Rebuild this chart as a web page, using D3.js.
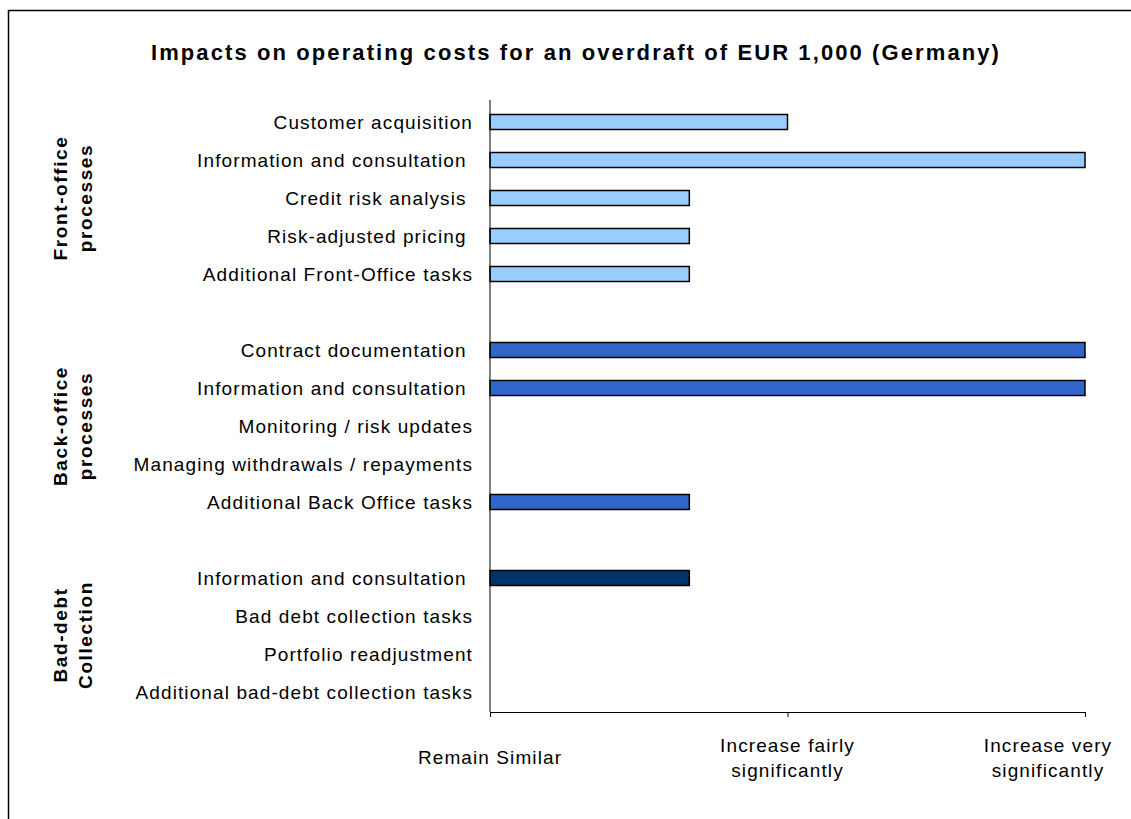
<!DOCTYPE html>
<html><head><meta charset="utf-8">
<script src="https://cdn.jsdelivr.net/npm/d3@7"></script>
<style>body{margin:0;background:#fff;} svg{display:block;font-family:"Liberation Sans",Arial,sans-serif;}</style>
</head><body><svg id="c" width="1131" height="819"></svg>
<script>
const categories = [
  "Customer acquisition", "Information and consultation ", "Credit risk analysis ", "Risk-adjusted pricing ", "Additional Front-Office tasks",
  "", 
  "Contract documentation ", "Information and consultation ", "Monitoring / risk updates", "Managing withdrawals / repayments", "Additional Back Office tasks",
  "",
  "Information and consultation ", "Bad debt collection tasks", "Portfolio readjustment", "Additional bad-debt collection tasks"
];
const groupOf = [0,0,0,0,0,-1,1,1,1,1,1,-1,2,2,2,2];
const values = [1, 2, 0.67, 0.67, 0.67, null, 2, 2, 0, 0, 0.67, null, 0.67, 0, 0, 0];
const groups = [["Front-office","processes"],["Back-office","processes"],["Bad-debt","Collection"]];
const groupColors = ["#99CCFF", "#3366CC", "#003366"];
const tickValues = [0, 1, 2];
const tickLabels = [["Remain Similar"], ["Increase fairly","significantly"], ["Increase very","significantly"]];
const title = "Impacts on operating costs for an overdraft of EUR 1,000 (Germany)";

const svg = d3.select("#c");
svg.append("rect").attr("x",8.5).attr("y",10.5).attr("width",1140).attr("height",830)
  .attr("fill","none").attr("stroke","#000").attr("stroke-width",1.5);

svg.append("text").attr("x",576).attr("y",60).attr("text-anchor","middle")
  .attr("font-size","22px").attr("font-weight","bold").attr("letter-spacing","2.1px").text(title);

const idx = categories.map((d,i)=>i);
const y = d3.scaleBand().domain(idx).range([103, 711]);
const x = d3.scaleLinear().domain([0,2]).range([490, 1085]);

// bars
svg.append("g").selectAll("rect").data(idx.filter(i=>values[i]>0)).join("rect")
  .attr("x", x(0)).attr("y", i=>y(i)+y.bandwidth()/2-7.5)
  .attr("width", i=>x(values[i])-x(0)).attr("height", 15)
  .attr("fill", i=>groupColors[groupOf[i]]).attr("stroke","#000").attr("stroke-width",1.5);

// category labels
svg.append("g").selectAll("text").data(idx.filter(i=>categories[i])).join("text")
  .attr("x", 473).attr("y", i=>y(i)+y.bandwidth()/2).attr("dy","0.35em")
  .attr("text-anchor","end").attr("font-size","19px").attr("letter-spacing","1.1px").style("white-space","pre")
  .text(i=>categories[i]);

// y axis line
svg.append("line").attr("x1",x(0)).attr("x2",x(0)).attr("y1",100).attr("y2",712)
  .attr("stroke","#000").attr("stroke-width",1);

// x axis
const xAxis = d3.axisBottom(x).tickValues(tickValues).tickSize(5).tickFormat("");
const gx = svg.append("g").attr("transform","translate(0,712)").call(xAxis);
gx.select(".domain").attr("stroke","#000");
gx.selectAll(".tick line").attr("stroke","#000");

const labelShift = [0, 0, -37];
tickValues.forEach((v,k)=>{
  const lines = tickLabels[k];
  const t = svg.append("text").attr("text-anchor","middle").attr("font-size","19px").attr("letter-spacing","1.1px");
  const y0 = lines.length===1 ? 764 : 752;
  lines.forEach((s,j)=>t.append("tspan").attr("x",x(v)+labelShift[k]).attr("y",y0+j*25).text(s));
});

// group labels
groups.forEach((g,gi)=>{
  const rows = idx.filter(i=>groupOf[i]===gi);
  const cy = (y(rows[0]) + y(rows[rows.length-1]) + y.bandwidth())/2;
  g.forEach((s,j)=>{
    const cx = 67 + j*25;
    svg.append("text").attr("transform",`translate(${cx},${cy}) rotate(-90)`)
      .attr("text-anchor","middle").attr("font-size","19px").attr("font-weight","bold")
      .attr("letter-spacing","1.6px").text(s);
  });
});
</script></body></html>
